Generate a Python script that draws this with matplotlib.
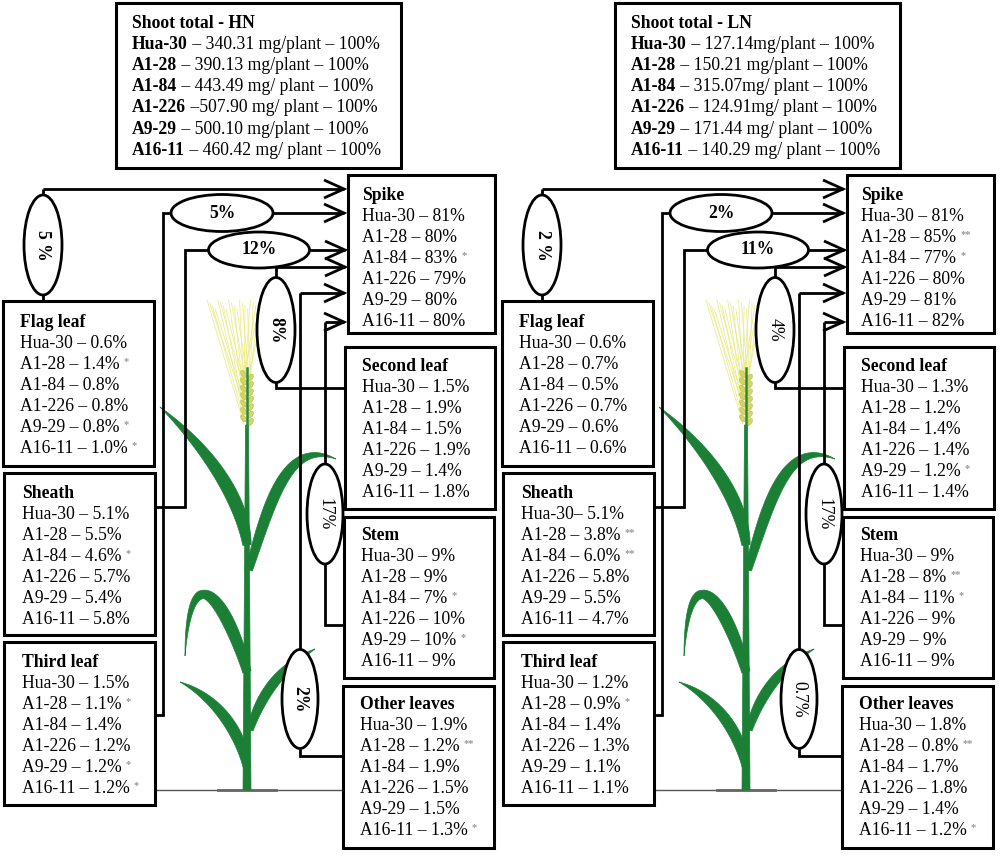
import numpy as np
import matplotlib
matplotlib.use("Agg")
import matplotlib.pyplot as plt
from matplotlib.patches import Rectangle, Ellipse, Polygon

# ---------------- data ----------------
lines = ['Hua-30', 'A1-28', 'A1-84', 'A1-226', 'A9-29', 'A16-11']

shoot_hn = ['340.31 mg/plant', '390.13 mg/plant', '443.49 mg/ plant',
            '507.90 mg/ plant', '500.10 mg/plant', '460.42 mg/ plant']
shoot_ln = ['127.14mg/plant', '150.21 mg/plant', '315.07mg/ plant',
            '124.91mg/ plant', '171.44 mg/ plant', '140.29 mg/ plant']
shoot_pct = ['100%'] * 6

spike_hn = ['81%', '80%', '83%', '79%', '80%', '80%']
spike_hn_sig = ['', '', '*', '', '', '']
flag_hn = ['0.6%', '1.4%', '0.8%', '0.8%', '0.8%', '1.0%']
flag_hn_sig = ['', '*', '', '', '*', '*']
sheath_hn = ['5.1%', '5.5%', '4.6%', '5.7%', '5.4%', '5.8%']
sheath_hn_sig = ['', '', '*', '', '', '']
third_hn = ['1.5%', '1.1%', '1.4%', '1.2%', '1.2%', '1.2%']
third_hn_sig = ['', '*', '', '', '*', '*']
second_hn = ['1.5%', '1.9%', '1.5%', '1.9%', '1.4%', '1.8%']
second_hn_sig = ['', '', '', '', '', '']
stem_hn = ['9%', '9%', '7%', '10%', '10%', '9%']
stem_hn_sig = ['', '', '*', '', '*', '']
other_hn = ['1.9%', '1.2%', '1.9%', '1.5%', '1.5%', '1.3%']
other_hn_sig = ['', '**', '', '', '', '*']

spike_ln = ['81%', '85%', '77%', '80%', '81%', '82%']
spike_ln_sig = ['', '**', '*', '', '', '']
flag_ln = ['0.6%', '0.7%', '0.5%', '0.7%', '0.6%', '0.6%']
flag_ln_sig = ['', '', '', '', '', '']
sheath_ln = ['5.1%', '3.8%', '6.0%', '5.8%', '5.5%', '4.7%']
sheath_ln_sig = ['', '**', '**', '', '', '']
third_ln = ['1.2%', '0.9%', '1.4%', '1.3%', '1.1%', '1.1%']
third_ln_sig = ['', '*', '', '', '', '']
second_ln = ['1.3%', '1.2%', '1.4%', '1.4%', '1.2%', '1.4%']
second_ln_sig = ['', '', '', '', '*', '']
stem_ln = ['9%', '8%', '11%', '9%', '9%', '9%']
stem_ln_sig = ['', '**', '*', '', '', '']
other_ln = ['1.8%', '0.8%', '1.7%', '1.8%', '1.4%', '1.2%']
other_ln_sig = ['', '**', '', '', '', '*']

# remobilisation to spike (ellipse labels)
flow_hn = {'flag': '5 %', 'third': '5%', 'sheath': '12%', 'second': '8%', 'stem': '17%', 'other': '2%'}
flow_ln = {'flag': '2 %', 'third': '2%', 'sheath': '11%', 'second': '4%', 'stem': '17%', 'other': '0.7%'}

# ---------------- drawing ----------------
FS = 12.7
SERIF = 'Liberation Serif'
LW_BOX = 2.2
LW_LINE = 2.0
GREEN = '#1b7f35'

fig = plt.figure(figsize=(10, 8.61), dpi=100)
ax = fig.add_axes([0, 0, 1, 1])
ax.set_xlim(0, 1000)
ax.set_ylim(861, 0)
ax.axis('off')


def put_box(x0, y0, x1, y1):
    ax.add_patch(Rectangle((x0, y0), x1 - x0, y1 - y0, fill=False,
                           lw=LW_BOX, ec='black', zorder=5))


def put_star(t, s):
    if s:
        ax.annotate(s, xy=(1, 1), xycoords=t, xytext=(3, -0.5),
                    textcoords='offset points', ha='left', va='top',
                    fontsize=7.5, color='#9a9a9a', family=SERIF,
                    fontweight='bold', zorder=6)


def organ_box(x0, y0, x1, y1, title, vals, sigs, tx, ty0, dash=None):
    put_box(x0, y0, x1, y1)
    ax.text(tx, ty0 + 6, title, fontsize=FS, family=SERIF, fontweight='bold',
            va='baseline', ha='left', zorder=6)
    for i, (ln, v, s) in enumerate(zip(lines, vals, sigs)):
        sep = ' – '
        if dash is not None and i in dash:
            sep = '– '
        t = ax.text(tx, ty0 + 6 + 21 * (i + 1), ln + sep + v, fontsize=FS,
                    family=SERIF, va='baseline', ha='left', zorder=6)
        put_star(t, s)


def shoot_box(x0, y0, x1, y1, title, vals, seps):
    put_box(x0, y0, x1, y1)
    tx = x0 + 16
    ty = y0 + 19
    ax.text(tx, ty + 6, title, fontsize=FS, family=SERIF, fontweight='bold',
            va='baseline', ha='left', zorder=6)
    for i, (ln, v, p) in enumerate(zip(lines, vals, shoot_pct)):
        b = ax.text(tx, ty + 6 + 21.1 * (i + 1), ln, fontsize=FS, family=SERIF,
                    fontweight='bold', va='baseline', ha='left', zorder=6)
        ax.annotate(seps[i] + v + ' – ' + p, xy=(1, 0), xycoords=b,
                    ha='left', va='bottom', fontsize=FS, family=SERIF, zorder=6)


def ell(cx, cy, w, h, label, vertical, bold=True):
    ax.add_patch(Ellipse((cx, cy), w, h, fc='white', ec='black', lw=LW_LINE, zorder=4))
    ax.text(cx, cy, label, rotation=270 if vertical else 0, ha='center',
            va='center', fontsize=FS, family=SERIF,
            fontweight='bold' if bold else 'normal', zorder=6,
            rotation_mode='anchor')


def path(pts):
    p = np.array(pts, dtype=float)
    ax.plot(p[:, 0], p[:, 1], color='black', lw=LW_LINE, solid_joinstyle='miter',
            solid_capstyle='butt', zorder=3)


def arrow(x0, x1, y):
    path([(x0, y), (x1, y)])
    path([(x1 - 20, y - 9), (x1, y), (x1 - 20, y + 9)])


def bez(p, t):
    p = np.array(p, dtype=float)
    t = t[:, None]
    return ((1 - t) ** 3 * p[0] + 3 * (1 - t) ** 2 * t * p[1]
            + 3 * (1 - t) * t ** 2 * p[2] + t ** 3 * p[3])


def leaf(p, wmax, dx, kind='blade'):
    p = [(a + dx, b) for a, b in p]
    t = np.linspace(0, 1, 120)
    c = bez(p, t)
    d = np.gradient(c, axis=0)
    nrm = np.stack([-d[:, 1], d[:, 0]], axis=1)
    nrm /= np.linalg.norm(nrm, axis=1)[:, None]
    if kind == 'blade':
        f = (1 - t) * (0.5 + 2 * t) / 0.78
    else:
        f = np.minimum(1.0, (1 - t) / 0.35) ** 0.9 * (0.7 + 0.3 * np.sin(np.pi * np.minimum(t / 0.6, 1.0)))
    w = wmax * f / 2
    poly = np.vstack([c + nrm * w[:, None], (c - nrm * w[:, None])[::-1]])
    ax.add_patch(Polygon(poly, closed=True, fc=GREEN, ec=GREEN, lw=0.5, zorder=2))


def plant(dx):
    sx = 247 + dx
    # ground line
    ax.plot([155 + dx, 343 + dx], [790, 790], color='#555555', lw=1.0, zorder=1)
    ax.plot([218 + dx, 276 + dx], [790, 790], color='#666666', lw=2.0, zorder=1)
    # stem
    ax.add_patch(Polygon([(sx - 1.5, 425), (sx + 1.5, 425), (sx + 4, 790), (sx - 4, 790)],
                         closed=True, fc=GREEN, ec=GREEN, lw=0.5, zorder=2))
    # leaves
    leaf([(247, 545), (243, 505), (215, 455), (160, 407)], 13, dx)
    leaf([(249, 570), (270, 500), (288, 438), (336, 459)], 11, dx)
    leaf([(247, 672), (228, 605), (190, 545), (185, 656)], 12, dx, kind='arch')
    leaf([(247, 768), (242, 735), (218, 698), (180, 682)], 11, dx)
    leaf([(250, 730), (262, 690), (285, 665), (315, 649)], 10, dx)
    # awns
    n_awn = 22
    ys = np.linspace(372, 424, n_awn)
    tops = np.linspace(207, 264, n_awn)
    for k, (yb, xt) in enumerate(zip(ys[::-1], tops)):
        side = -1 if k % 2 == 0 else 1
        ax.plot([sx + side * 3, xt + dx], [yb, 300 + (k % 4) * 3],
                color='#ecec8c', lw=0.6, zorder=2)
    # spikelets
    for k, yb in enumerate(np.linspace(374, 422, 14)):
        side = -1 if k % 2 == 0 else 1
        ax.add_patch(Ellipse((sx + side * 3.5, yb), 4.5, 8, angle=side * 35,
                             fc='#d2d25a', ec='#b5b540', lw=0.4, alpha=0.9, zorder=2.5))
    ax.plot([sx, sx], [368, 427], color='#2a8a3a', lw=1.8, zorder=2.6)


def panel(dx, shoot_title, shoot_vals, shoot_seps, data, flow, dashes):
    (spike, spike_s, flag, flag_s, sheath, sheath_s, third, third_s,
     second, second_s, stem, stem_s, other, other_s) = data
    plant(dx)
    shoot_box(116 + dx, 3, 401 + dx, 168, shoot_title, shoot_vals, shoot_seps)
    organ_box(348 + dx, 175, 495 + dx, 333, 'Spike', spike, spike_s, 362 + dx, 194)
    organ_box(3 + dx, 301, 154 + dx, 466, 'Flag leaf', flag, flag_s, 20 + dx, 321)
    organ_box(4 + dx, 473, 155 + dx, 635, 'Sheath', sheath, sheath_s, 22 + dx, 492, dashes)
    organ_box(4 + dx, 642, 155 + dx, 805, 'Third leaf', third, third_s, 22 + dx, 661)
    organ_box(345 + dx, 347, 495 + dx, 509, 'Second leaf', second, second_s, 362 + dx, 365)
    organ_box(344 + dx, 517, 494 + dx, 678, 'Stem', stem, stem_s, 361 + dx, 534)
    organ_box(343 + dx, 686, 494 + dx, 848, 'Other leaves', other, other_s, 360 + dx, 703)

    # flag leaf -> spike
    path([(43 + dx, 301), (43 + dx, 295)])
    path([(43 + dx, 195), (43 + dx, 189)])
    arrow(43 + dx, 344 + dx, 189)
    ell(43 + dx, 245, 38, 100, flow['flag'], True)
    # third leaf -> spike
    path([(155 + dx, 715), (163 + dx, 715), (163 + dx, 213), (171 + dx, 213)])
    arrow(273 + dx, 344 + dx, 213)
    ell(222 + dx, 213, 102, 37, flow['third'], False)
    # sheath -> spike
    path([(155 + dx, 507), (185 + dx, 507), (185 + dx, 250), (208 + dx, 250)])
    arrow(309 + dx, 345 + dx, 250)
    ell(259 + dx, 250, 101, 36, flow['sheath'], False)
    # second leaf -> spike
    path([(345 + dx, 388), (276 + dx, 388), (276 + dx, 382)])
    path([(276 + dx, 278), (276 + dx, 267)])
    arrow(276 + dx, 345 + dx, 267)
    ell(276 + dx, 330, 38, 105, flow['second'], True, bold=(dx == 0))
    # stem -> spike
    path([(344 + dx, 625), (325 + dx, 625), (325 + dx, 564)])
    path([(325 + dx, 464), (325 + dx, 322)])
    arrow(325 + dx, 344 + dx, 322)
    ell(325 + dx, 514, 36, 100, flow['stem'], True, bold=False)
    # other leaves -> spike
    path([(343 + dx, 756), (300 + dx, 756), (300 + dx, 749)])
    path([(300 + dx, 650), (300 + dx, 293)])
    arrow(300 + dx, 344 + dx, 293)
    ell(300 + dx, 699, 36, 99, flow['other'], True, bold=(dx == 0))


hn = (spike_hn, spike_hn_sig, flag_hn, flag_hn_sig, sheath_hn, sheath_hn_sig,
      third_hn, third_hn_sig, second_hn, second_hn_sig, stem_hn, stem_hn_sig,
      other_hn, other_hn_sig)
ln_ = (spike_ln, spike_ln_sig, flag_ln, flag_ln_sig, sheath_ln, sheath_ln_sig,
       third_ln, third_ln_sig, second_ln, second_ln_sig, stem_ln, stem_ln_sig,
       other_ln, other_ln_sig)

panel(0, 'Shoot total - HN', shoot_hn,
      [' – ', ' – ', ' – ', ' –', ' – ', ' – '], hn, flow_hn, None)
panel(499, 'Shoot total - LN', shoot_ln,
      [' – '] * 6, ln_, flow_ln, {0})

fig.savefig('out.png', dpi=100)
